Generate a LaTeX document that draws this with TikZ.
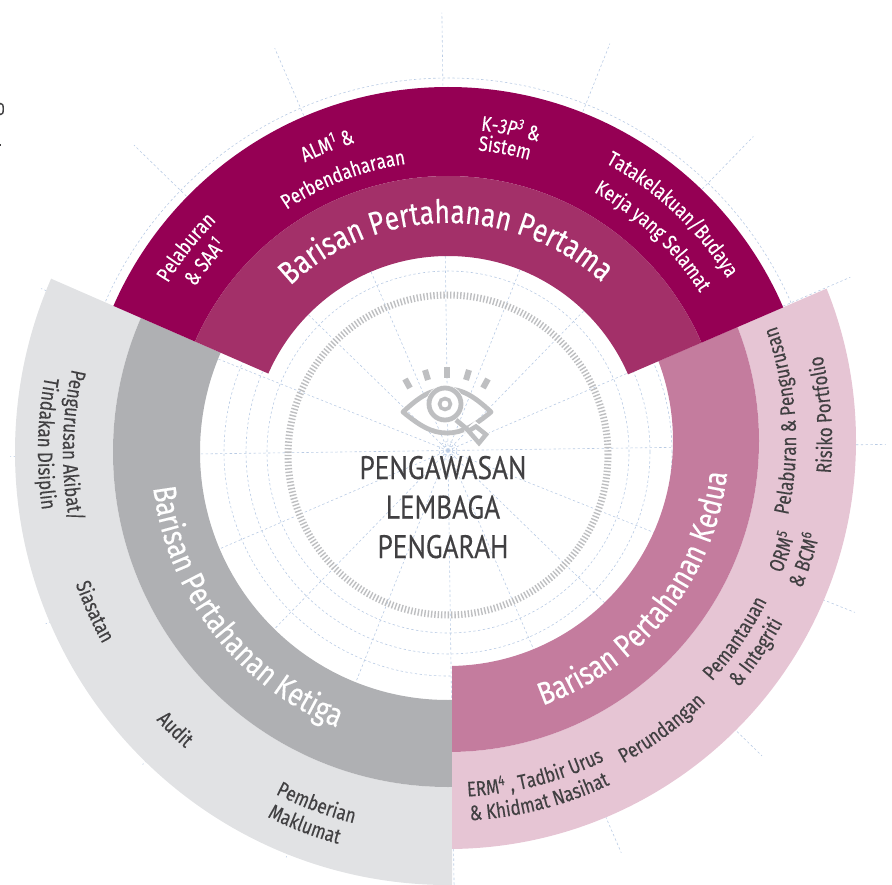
\documentclass[tikz,border=0pt]{standalone}
\usepackage{fontspec}
\setmainfont[FakeStretch=0.81,FakeBold=0.25]{Fira Sans}
\newfontfamily\ctrfont[FakeStretch=0.84,FakeBold=0.35]{PT Sans}
\usetikzlibrary{decorations.text}
\definecolor{maroonA}{HTML}{950054}
\definecolor{maroonB}{HTML}{A33069}
\definecolor{pinkB}{HTML}{C47C9E}
\definecolor{pinkA}{HTML}{E6C5D4}
\definecolor{grayB}{HTML}{AFB0B3}
\definecolor{grayA}{HTML}{E1E2E4}
\definecolor{iconc}{HTML}{BEBFC1}
\definecolor{guidec}{HTML}{B9CBE4}
\definecolor{inkc}{HTML}{414042}
\tikzset{
  guide/.style={draw=guidec,line width=0.6pt,dash pattern=on 2.4pt off 2.4pt},
  iconline/.style={draw=iconc,line width=4.8pt},
  rayline/.style={draw=iconc,line width=6pt},
}
% centre, baseline radius, mid angle, direction (+1 ccw, -1 cw), size, colour, text
\newcommand{\arclab}[7]{%
  \pgfmathsetmacro\sa{#3-#4*75}%
  \pgfmathsetmacro\ea{#3+#4*75}%
  \path[decorate,decoration={text along path,text align=center,
    text={|\fontsize{#5}{#5}\selectfont\color{#6}|#7}}]
    (#1) ++(\sa:#2) arc[start angle=\sa,end angle=\ea,radius=#2];
}
\begin{document}
\begin{tikzpicture}[x=1pt,y=1pt]
\useasboundingbox (0,0) rectangle (892,-885);
\coordinate (C) at (448,-452);
\coordinate (P) at (448,-441);
\coordinate (T) at (448,-455);
\coordinate (G) at (448,-450.5);
% guides
\foreach \a in {0,22.5,...,337.5} \draw[guide] (G) -- ++(\a+0.8:438);
\foreach \r in {181,202,224,249,374} \draw[guide] (448,-452) circle[radius=\r];
\draw[guide] (G) circle[radius=9];
\draw[guide] (G) circle[radius=5];
% tick ring
\draw[draw=iconc,line width=7pt,dash pattern=on 1.4pt off 1.95pt] (T) circle[radius=160];
% third line
\begin{scope}
  \clip (452,-900) -- (452,-452) -- (448,-452) -- (-10,-252) -- (-10,-900) -- cycle;
  \fill[grayA,even odd rule] (C) circle[radius=433] (C) circle[radius=335];
  \fill[grayB,even odd rule] (C) circle[radius=335] (C) circle[radius=248];
\end{scope}
% second line
\begin{scope}
  \clip (452,-900) -- (452,-450) -- (900,-257) -- (900,-900) -- cycle;
  \fill[pinkA,even odd rule] (P) circle[radius=408] (P) circle[radius=311];
  \fill[pinkB,even odd rule] (P) circle[radius=311] (P) circle[radius=225];
\end{scope}
% first line
\begin{scope}
  \clip (C) -- (900,-257) -- (900,0) -- (-10,0) -- (-10,-252) -- cycle;
  \fill[maroonA,even odd rule] (C) circle[radius=365] (C) circle[radius=276];
  \fill[maroonB,even odd rule] (C) circle[radius=276] (C) circle[radius=196];
\end{scope}
% eye icon
\draw[iconline,line join=round] (403,-412) .. controls (420,-396) and (432,-389) .. (447,-389)
  .. controls (462,-389) and (474,-396) .. (491,-412)
  .. controls (474,-426) and (462,-433) .. (447,-433)
  .. controls (432,-433) and (420,-426) .. (403,-412) -- cycle;
\fill[white] (445,-404) circle[radius=19];
\draw[iconline] (445,-404) circle[radius=16];
\draw[draw=iconc,line width=3.6pt] (445,-404) circle[radius=5.5];
\fill[white] (464,-431) -- (475,-421) -- (491,-434) -- (479,-449) -- cycle;
\draw[draw=iconc,line width=4.8pt] (456,-420) -- (468,-430);
\draw[draw=iconc,line width=4.5pt,line join=miter] (468.5,-431) -- (476,-426.5) -- (486,-434.5) -- (479,-443) -- cycle;
\draw[rayline] (447,-367) -- (447,-378);
\draw[rayline] (425,-370) -- (428,-380);
\draw[rayline] (405,-379) -- (410,-388);
\draw[rayline] (469,-370) -- (466,-380);
\draw[rayline] (488,-379) -- (483,-388);
% centre text
\node[name=title,font=\ctrfont\fontsize{32.5}{39.5}\selectfont,text=inkc,align=center,anchor=base,inner sep=0pt] at (443,-558) {PENGAWASAN\\LEMBAGA\\PENGARAH};
% cut-off marks at the left edge
\node[name=cutA,font=\fontsize{18}{18}\selectfont,text=inkc,anchor=base east,inner sep=0pt] at (5,-115) {0};
\fill[inkc] (0,-144.5) rectangle (1.2,-146);
% first line texts
\arclab{C}{229}{90.6}{-1}{32.5}{white}{Barisan Pertahanan Pertama}
\arclab{C}{327}{142}{-1}{21}{white}{Pelaburan}
\arclab{C}{302}{142}{-1}{21}{white}{{\&} SAA{\textsuperscript{1}}}
\arclab{C}{323}{111.5}{-1}{21}{white}{ALM{\textsuperscript{1}} {\&}}
\arclab{C}{291}{111}{-1}{21}{white}{Perbendaharaan}
\arclab{C}{323}{79}{-1}{21}{white}{K-{\itshape 3}{\itshape P}{\itshape\textsuperscript{3}} {\&}}
\arclab{C}{303}{79.4}{-1}{21}{white}{Sistem}
\arclab{C}{329}{46.6}{-1}{21}{white}{Tatakelakuan/Budaya}
\arclab{C}{298}{46.5}{-1}{21}{white}{Kerja yang Selamat}
% second line texts
\arclab{P}{281}{-38.4}{1}{32}{white}{Barisan Pertahanan Kedua}
\arclab{P}{348}{3.5}{1}{21}{inkc}{Pelaburan {\&} Pengurusan}
\arclab{P}{384}{4}{1}{21}{inkc}{Risiko Portfolio}
\arclab{P}{359}{-18.3}{1}{21}{inkc}{ORM{\textsuperscript{5}}}
\arclab{P}{383}{-18.4}{1}{21}{inkc}{{\&} BCM{\textsuperscript{6}}}
\arclab{P}{357}{-34.5}{1}{21}{inkc}{Pemantauan}
\arclab{P}{381}{-34.4}{1}{21}{inkc}{{\&} Integriti}
\arclab{P}{367}{-53.4}{1}{21}{inkc}{Perundangan}
\arclab{P}{356}{-75.4}{1}{21}{inkc}{ERM{\textsuperscript{4}} , Tadbir Urus}
\arclab{P}{380}{-75.7}{1}{21}{inkc}{{\&} Khidmat Nasihat}
% third line texts
\arclab{C}{297}{217.5}{1}{32.5}{white}{Barisan Pertahanan Ketiga}
\arclab{C}{385}{179}{1}{21}{inkc}{Pengurusan Akibat/}
\arclab{C}{410}{178.8}{1}{21}{inkc}{Tindakan Disiplin}
\arclab{C}{395}{204.3}{1}{21}{inkc}{Siasatan}
\arclab{C}{396}{225.5}{1}{21}{inkc}{Audit}
\arclab{C}{383}{249.5}{1}{21}{inkc}{Pemberian}
\arclab{C}{407}{249}{1}{21}{inkc}{Maklumat}
\end{tikzpicture}
\end{document}
